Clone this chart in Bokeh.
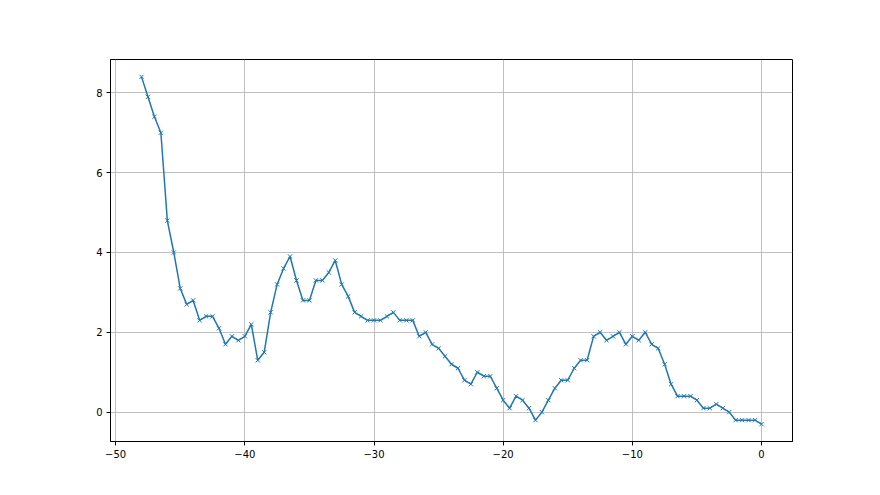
from bokeh.plotting import figure
from bokeh.embed import file_html
from bokeh.resources import INLINE
from bokeh.models import FixedTicker, Range1d

x_vals = [-48.0, -47.5, -47.0, -46.5, -46.0, -45.5, -45.0, -44.5, -44.0, -43.5,
          -43.0, -42.5, -42.0, -41.5, -41.0, -40.5, -40.0, -39.5, -39.0, -38.5,
          -38.0, -37.5, -37.0, -36.5, -36.0, -35.5, -35.0, -34.5, -34.0, -33.5,
          -33.0, -32.5, -32.0, -31.5, -31.0, -30.5, -30.0, -29.5, -29.0, -28.5,
          -28.0, -27.5, -27.0, -26.5, -26.0, -25.5, -25.0, -24.5, -24.0, -23.5,
          -23.0, -22.5, -22.0, -21.5, -21.0, -20.5, -20.0, -19.5, -19.0, -18.5,
          -18.0, -17.5, -17.0, -16.5, -16.0, -15.5, -15.0, -14.5, -14.0, -13.5,
          -13.0, -12.5, -12.0, -11.5, -11.0, -10.5, -10.0, -9.5, -9.0, -8.5,
          -8.0, -7.5, -7.0, -6.5, -6.0, -5.5, -5.0, -4.5, -4.0, -3.5,
          -3.0, -2.5, -2.0, -1.5, -1.0, -0.5, 0.0]
y_vals = [8.4, 7.9, 7.4, 7.0, 4.8, 4.0, 3.1, 2.7, 2.8, 2.3,
          2.4, 2.4, 2.1, 1.7, 1.9, 1.8, 1.9, 2.2, 1.3, 1.5,
          2.5, 3.2, 3.6, 3.9, 3.3, 2.8, 2.8, 3.3, 3.3, 3.5,
          3.8, 3.2, 2.9, 2.5, 2.4, 2.3, 2.3, 2.3, 2.4, 2.5,
          2.3, 2.3, 2.3, 1.9, 2.0, 1.7, 1.6, 1.4, 1.2, 1.1,
          0.8, 0.7, 1.0, 0.9, 0.9, 0.6, 0.3, 0.1, 0.4, 0.3,
          0.1, -0.2, 0.0, 0.3, 0.6, 0.8, 0.8, 1.1, 1.3, 1.3,
          1.9, 2.0, 1.8, 1.9, 2.0, 1.7, 1.9, 1.8, 2.0, 1.7,
          1.6, 1.2, 0.7, 0.4, 0.4, 0.4, 0.3, 0.1, 0.1, 0.2,
          0.1, 0.0, -0.2, -0.2, -0.2, -0.2, -0.3]
x_ticks = [-50, -40, -30, -20, -10, 0]
y_ticks = [0, 2, 4, 6, 8]

color = "#1f77b4"

p = figure(width=864, height=479, output_backend="svg", toolbar_location=None,
           min_border_left=110, min_border_right=72, min_border_top=59,
           min_border_bottom=38,
           x_range=Range1d(-50.4, 2.4), y_range=Range1d(-0.735, 8.835))

p.line(x_vals, y_vals, line_color=color, line_width=1.5)
p.scatter(x_vals, y_vals, marker="x", size=6, line_color=color, line_width=1)

p.outline_line_color = "black"
p.outline_line_width = 1
p.outline_line_alpha = 1

for ax in (p.xaxis[0], p.yaxis[0]):
    ax.axis_line_color = "black"
    ax.major_tick_line_color = "black"
    ax.major_tick_out = 4
    ax.major_tick_in = 0
    ax.minor_tick_line_color = None
    ax.major_label_text_font = "DejaVu Sans"
    ax.major_label_text_font_size = "10px"
    ax.major_label_text_color = "black"

p.xaxis.ticker = FixedTicker(ticks=x_ticks)
p.yaxis.ticker = FixedTicker(ticks=y_ticks)
p.xaxis.major_label_standoff = 4
p.yaxis.major_label_standoff = 4

p.grid.grid_line_color = "#b0b0b0"
p.grid.grid_line_width = 0.8
p.xgrid.ticker = FixedTicker(ticks=x_ticks)
p.ygrid.ticker = FixedTicker(ticks=y_ticks)

p.background_fill_color = "white"
p.border_fill_color = "white"

open("out.html", "w").write(file_html(p, INLINE))
